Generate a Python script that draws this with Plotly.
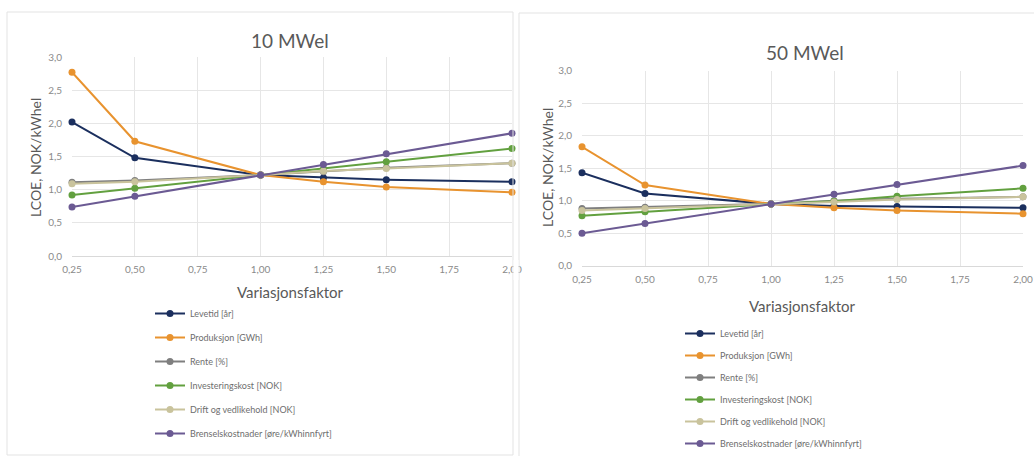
import plotly.graph_objects as go

W, H = 1034, 456

x_factor = [0.25, 0.50, 1.00, 1.25, 1.50, 2.00]
series_names = ["Levetid [år]", "Produksjon [GWh]", "Rente [%]",
                "Investeringskost [NOK]", "Drift og vedlikehold [NOK]",
                "Brenselskostnader [øre/kWhinnfyrt]"]
colors = ["#1b2f5e", "#e8932f", "#7f7f7f", "#62a03f", "#c9c39c", "#6b5a93"]

# 10 MWel
lev_10 = [2.02, 1.48, 1.22, 1.18, 1.15, 1.12]
prod_10 = [2.77, 1.73, 1.22, 1.12, 1.04, 0.96]
rente_10 = [1.11, 1.14, 1.22, 1.27, 1.33, 1.40]
inv_10 = [0.92, 1.02, 1.22, 1.31, 1.42, 1.62]
drift_10 = [1.09, 1.12, 1.22, 1.28, 1.32, 1.40]
bren_10 = [0.74, 0.90, 1.22, 1.38, 1.54, 1.85]

# 50 MWel
lev_50 = [1.43, 1.11, 0.95, 0.92, 0.91, 0.89]
prod_50 = [1.83, 1.24, 0.95, 0.89, 0.85, 0.80]
rente_50 = [0.88, 0.90, 0.95, 1.00, 1.03, 1.06]
inv_50 = [0.77, 0.83, 0.95, 0.99, 1.07, 1.19]
drift_50 = [0.85, 0.88, 0.95, 0.98, 1.02, 1.06]
bren_50 = [0.50, 0.65, 0.95, 1.10, 1.25, 1.54]

data_10 = [lev_10, prod_10, rente_10, inv_10, drift_10, bren_10]
data_50 = [lev_50, prod_50, rente_50, inv_50, drift_50, bren_50]

x_ticks = [0.25, 0.50, 0.75, 1.00, 1.25, 1.50, 1.75, 2.00]
y_ticks = [0.0, 0.5, 1.0, 1.5, 2.0, 2.5, 3.0]


def px(v):
    return v / W


def py(v):
    return 1 - v / H


fig = go.Figure()
for i, (name, vals) in enumerate(zip(series_names, data_10)):
    fig.add_trace(go.Scatter(x=x_factor, y=vals, name=name, mode="lines+markers",
                             line=dict(color=colors[i], width=2),
                             marker=dict(color=colors[i], size=7),
                             cliponaxis=False,
                             xaxis="x", yaxis="y", legend="legend",
                             legendgroup="a%d" % i))
for i, (name, vals) in enumerate(zip(series_names, data_50)):
    fig.add_trace(go.Scatter(x=x_factor, y=vals, name=name, mode="lines+markers",
                             line=dict(color=colors[i], width=2),
                             marker=dict(color=colors[i], size=7),
                             cliponaxis=False,
                             xaxis="x2", yaxis="y2", legend="legend2",
                             legendgroup="b%d" % i))

tickfont = dict(family="Lato, sans-serif", size=10, color="#8a8a8a")
grid = "#e6e6e6"
common_x = dict(range=[0.25, 2.0], tickvals=x_ticks, tickformat=".2f",
                showgrid=True, gridcolor=grid, zeroline=False, showline=True,
                linecolor="#d9d9d9", ticks="", tickfont=tickfont, fixedrange=True,
                automargin=False, ticklabelstandoff=4)
common_y = dict(range=[0, 3.0], tickvals=y_ticks, tickformat=".1f",
                showgrid=True, gridcolor=grid, zeroline=False, showline=False,
                ticks="", tickfont=tickfont, ticklabelstandoff=9, fixedrange=True,
                automargin=False)

legend_font = dict(family="Lato, sans-serif", size=9, color="#6e6e6e")

title_font = dict(family="Lato, sans-serif", size=19, color="#595959")
xt_font = dict(family="Lato, sans-serif", size=15, color="#595959")
yt_font = dict(family="Lato, sans-serif", size=14, color="#595959")


def ann(text, x, y, font, angle=0):
    return dict(text=text, x=px(x), y=py(y), xref="paper", yref="paper",
                xanchor="center", yanchor="middle", textangle=angle,
                showarrow=False, font=font)


fig.update_layout(
    width=W, height=H,
    margin=dict(l=0, r=0, t=0, b=0, autoexpand=False),
    paper_bgcolor="white", plot_bgcolor="white",
    separators=", ",
    xaxis=dict(domain=[px(72), px(512)], anchor="y", **common_x),
    yaxis=dict(domain=[py(256), py(57)], anchor="x", **common_y),
    xaxis2=dict(domain=[px(582), px(1023)], anchor="y2", **common_x),
    yaxis2=dict(domain=[py(265.7), py(70.7)], anchor="x2", **common_y),
    legend=dict(x=px(150), y=py(299), font=legend_font, bgcolor="rgba(0,0,0,0)",
                tracegroupgap=5, itemwidth=30, xanchor="left", yanchor="top"),
    legend2=dict(x=px(680), y=py(319), font=legend_font, bgcolor="rgba(0,0,0,0)",
                 tracegroupgap=3, itemwidth=30, xanchor="left", yanchor="top"),
    shapes=[
        dict(type="rect", xref="paper", yref="paper", x0=px(7), x1=px(513),
             y0=py(455), y1=py(12), line=dict(color="#e3e3e3", width=1)),
        dict(type="rect", xref="paper", yref="paper", x0=px(519), x1=px(1040),
             y0=py(460), y1=py(13), line=dict(color="#e3e3e3", width=1)),
        dict(type="rect", xref="paper", yref="paper", x0=px(513.5), x1=px(518.5),
             y0=py(280), y1=py(260), fillcolor="white", line=dict(width=0),
             layer="above"),
    ],
    annotations=[
        ann("10 MWel", 290, 40, title_font),
        ann("50 MWel", 805, 53, title_font),
        ann("Variasjonsfaktor", 290, 292, xt_font),
        ann("Variasjonsfaktor", 802, 306, xt_font),
        ann("LCOE, NOK/kWhel", 35, 158, yt_font, -90),
        ann("LCOE, NOK/kWhel", 547, 168, yt_font, -90),
    ],
)

fig.write_html("out.html", config={"displayModeBar": False},
               post_script="document.body.style.margin='0';"
                           "document.documentElement.style.overflow='hidden';"
                           "document.body.style.overflow='hidden';")
